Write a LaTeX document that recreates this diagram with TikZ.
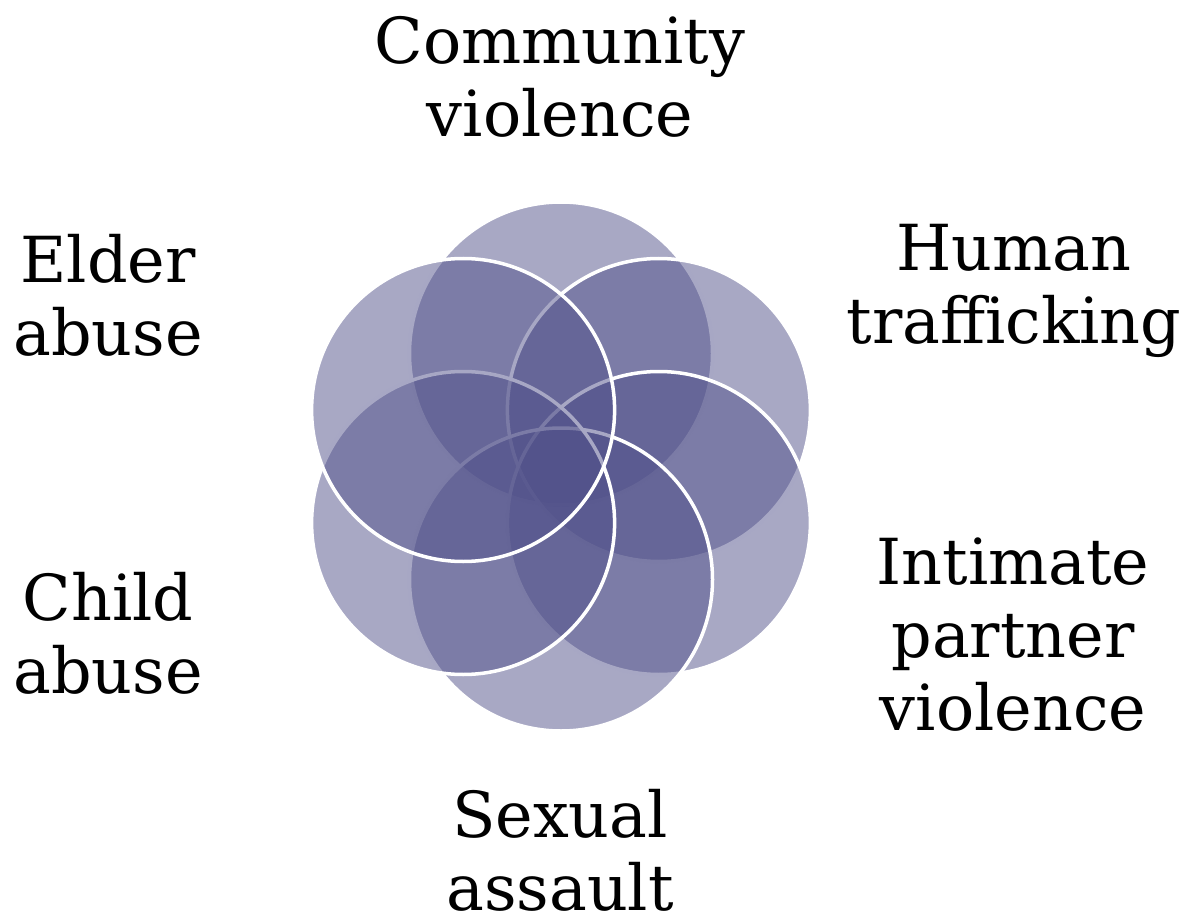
\documentclass[tikz,border=0pt]{standalone}
\usepackage{fontspec}
\setmainfont{DejaVu Serif}
\definecolor{petal}{RGB}{81,81,138}
\tikzset{
  petalc/.style={circle, inner sep=0pt, minimum size=303pt, fill=petal, fill opacity=0.5, draw=white, draw opacity=1, line width=3.5pt},
  lbl/.style={align=center, inner sep=0pt, anchor=base, font=\fontsize{63.5}{73}\selectfont, text=black}
}
\begin{document}
\begin{tikzpicture}[x=1pt, y=-1pt]
\useasboundingbox (0,0) rectangle (1184,920);
\coordinate (c) at (561,466.5);
\node[petalc] (p1) at (561,353.5) {};
\node[petalc] (p2) at (658.9,410) {};
\node[petalc] (p3) at (658.9,523) {};
\node[petalc] (p4) at (561,579.5) {};
\node[petalc] (p5) at (463.1,523) {};
\node[petalc] (p6) at (463.1,410) {};
% anchor=base lies on the last line's baseline
\node[lbl] (t1) at (560,137) {Community\\violence};
\node[lbl] (t2) at (1014,343) {Human\\trafficking};
\node[lbl] (t3) at (1013,730) {Intimate\\partner\\violence};
\node[lbl] (t4) at (560,910) {Sexual\\assault};
\node[lbl] (t5) at (108,693) {Child\\abuse};
\node[lbl] (t6) at (108,355) {Elder\\abuse};
\end{tikzpicture}
\end{document}
